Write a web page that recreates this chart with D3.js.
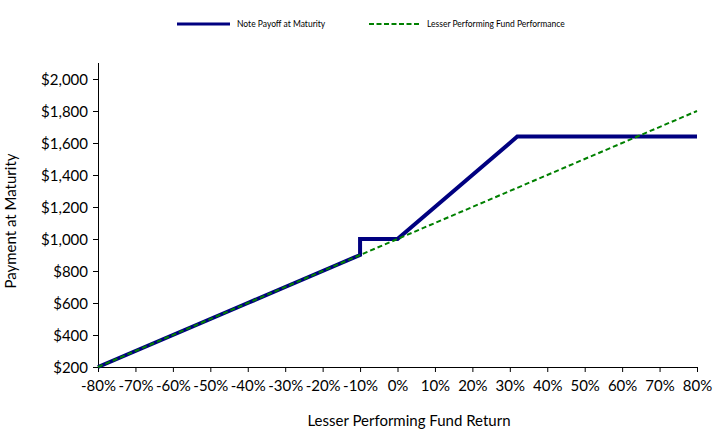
<!DOCTYPE html>
<html><head><meta charset="utf-8">
<script src="https://cdn.jsdelivr.net/npm/d3@7"></script>
<style>body{margin:0;background:#fff}svg{display:block}text{font-family:Lato,"Open Sans",sans-serif;fill:#000}</style>
</head><body><svg id="c" width="714" height="432"></svg>
<script>
// Data
const noteReturns = [-0.8,-0.7,-0.6,-0.5,-0.4,-0.3,-0.2,-0.1,-0.1,0,0.1,0.2,0.3,0.32,0.4,0.5,0.6,0.7,0.8];
const notePayoff  = [200,300,400,500,600,700,800,900,1000,1000,1200,1400,1600,1640,1640,1640,1640,1640,1640];
const fundReturns = [-0.8,0.8];
const fundPerf    = [200,1800];
const xTicks = [-0.8,-0.7,-0.6,-0.5,-0.4,-0.3,-0.2,-0.1,0,0.1,0.2,0.3,0.4,0.5,0.6,0.7,0.8];
const yTicks = [200,400,600,800,1000,1200,1400,1600,1800,2000];
const seriesNames = ["Note Payoff at Maturity","Lesser Performing Fund Performance"];

const svg = d3.select("#c");
const x = d3.scaleLinear().domain([-0.8,0.8]).range([98,697]);
const y = d3.scaleLinear().domain([200,2000]).range([367,79]);

// y axis
const ya = svg.append("g").attr("transform","translate(98,0)")
  .call(d3.axisLeft(y).tickValues(yTicks).tickSize(5).tickPadding(5)
    .tickFormat(d=>"$"+d3.format(",")(d)));
ya.select(".domain").remove();
ya.selectAll("text").style("font-size","15px").attr("dy","0.35em");
svg.append("line").attr("x1",98.5).attr("x2",98.5).attr("y1",63).attr("y2",367).attr("stroke","#000");

// x axis
const xa = svg.append("g").attr("transform","translate(0,367)")
  .call(d3.axisBottom(x).tickValues(xTicks).tickSize(5).tickPadding(8)
    .tickFormat(d=>Math.round(d*100)+"%"));
xa.select(".domain").attr("d",`M98,0.5H697`);
xa.selectAll("text").style("font-size","15px");

const line = d3.line().x(d=>x(d[0])).y(d=>y(d[1]));
svg.append("path").datum(noteReturns.map((r,i)=>[r,notePayoff[i]]))
  .attr("d",line).attr("fill","none").attr("stroke","#000080").attr("stroke-width",4).attr("stroke-linejoin","miter");
svg.append("path").datum(fundReturns.map((r,i)=>[r,fundPerf[i]]))
  .attr("d",line).attr("fill","none").attr("stroke","#008000").attr("stroke-width",2).attr("stroke-dasharray","5,3");

// titles
svg.append("text").attr("x",409).attr("y",426).attr("text-anchor","middle").style("font-size","15px").text("Lesser Performing Fund Return");
svg.append("text").attr("transform","translate(16,221) rotate(-90)").attr("text-anchor","middle").style("font-size","15px").text("Payment at Maturity");

// legend
const lg = svg.append("g");
lg.append("line").attr("x1",177).attr("x2",230).attr("y1",24).attr("y2",24).attr("stroke","#000080").attr("stroke-width",3);
lg.append("text").attr("x",237).attr("y",27).style("font-size","8.5px").text(seriesNames[0]);
lg.append("line").attr("x1",369).attr("x2",421).attr("y1",24).attr("y2",24).attr("stroke","#008000").attr("stroke-width",2).attr("stroke-dasharray","5,2.5");
lg.append("text").attr("x",427).attr("y",27).style("font-size","8.5px").text(seriesNames[1]);
</script></body></html>
